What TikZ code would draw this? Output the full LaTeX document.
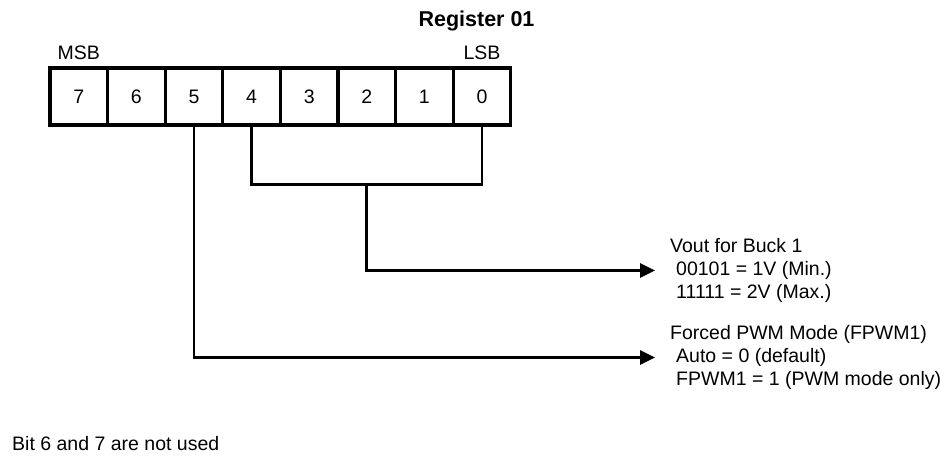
\documentclass[tikz,border=0pt]{standalone}
\usepackage{fontspec}
\setmainfont{Liberation Sans}
\usetikzlibrary{positioning}
\usetikzlibrary{arrows.meta}
\usetikzlibrary{calc}

\begin{document}
\begin{tikzpicture}[x=1pt,y=-1pt,
        bitbox/.style={draw,line width=3.3pt,minimum width=57.6pt,minimum height=57pt,inner sep=0pt,font=\fontsize{19.5}{23}\selectfont},
        wire/.style={line width=2.8pt},
        arr/.style={wire,-{Triangle[length=15pt,width=14pt]},shorten >=15pt},
        lbl/.style={inner sep=0pt,align=left,font=\fontsize{19.5}{23}\selectfont}]
        \useasboundingbox (0,0) rectangle (947,455);

        \foreach \k in {0,...,7}{
                \pgfmathtruncatemacro{\bit}{7-\k}
                \node[bitbox] (b\bit) at (78.8+57.6*\k,96.5) {\bit};
        }
        \node[inner sep=0pt,font=\fontsize{21.5}{26}\selectfont\bfseries] (title) at (476.5,21) {Register 01};
        \node[lbl,above=6pt of b7] (msb) {MSB};
        \node[lbl,above=6pt of b0] (lsb) {LSB};

        \node[lbl,anchor=west] (vout) at (670,270.5) {Vout for Buck 1\\\hspace*{6pt}00101 = 1V (Min.)\\\hspace*{6pt}11111 = 2V (Max.)};
        \node[lbl,anchor=west] (fpwm) at (670,357.5) {Forced PWM Mode (FPWM1)\\\hspace*{6pt}Auto = 0 (default)\\\hspace*{6pt}FPWM1 = 1 (PWM mode only)};
        \node[lbl,anchor=west] (note) at (12,444) {Bit 6 and 7 are not used};

        \coordinate (mid) at ($(b4.south)!0.5!(b0.south)+(0,58)$);
        \draw[wire] (b4.south) |- (mid) -| (b0.south);
        \draw[arr] (mid) |- (vout.west);
        \draw[arr] (b5.south) |- (fpwm.west);
\end{tikzpicture}
\end{document}
